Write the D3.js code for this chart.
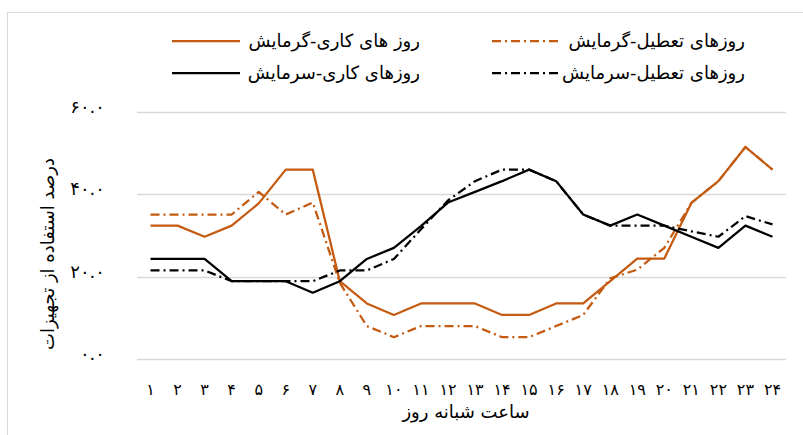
<!DOCTYPE html>
<html>
<head>
<meta charset="utf-8">
<script src="https://cdn.jsdelivr.net/npm/d3@7"></script>
<style>
  body { margin: 0; background: #fff; }
  text { font-family: "DejaVu Sans", sans-serif; fill: #000; }
</style>
</head>
<body>
<div id="chart"></div>
<script>
// hours of day (Persian digits used for labels)
var hours = d3.range(1, 25);
var hourLabels = ["۱","۲","۳","۴","۵","۶","۷","۸","۹","۱۰","۱۱","۱۲","۱۳","۱۴","۱۵","۱۶","۱۷","۱۸","۱۹","۲۰","۲۱","۲۲","۲۳","۲۴"];
var yTicks = [0, 20, 40, 60];
var yTickLabels = ["۰.۰", "۲۰.۰", "۴۰.۰", "۶۰.۰"];

var workHeat   = [32.4,32.4,29.7,32.4,37.8,46,46,18.9,13.5,10.7,13.5,13.5,13.5,10.7,10.7,13.5,13.5,18.9,24.4,24.4,37.9,43.2,51.5,46];
var holidayHeat = [35.1,35.1,35.1,35.1,40.6,35.1,38,18.5,8,5.3,8,8,8,5.3,5.3,8,10.7,19.6,21.7,27,37.9,43.2,51.5,46];
var workCool   = [24.3,24.3,24.3,18.9,18.9,18.9,16.1,18.9,24.3,27,32.3,38,40.6,43.2,46,43.2,35.1,32.4,35.1,32.4,29.7,27,32.4,29.7];
var holidayCool = [21.5,21.5,21.5,18.9,18.9,18.9,18.9,21.5,21.5,24.3,31.5,38.5,43.2,46,46,43.2,35.1,32.4,32.4,32.4,31,29.7,34.7,32.7];

var orange = "#c55a11";
var series = [
  {name: "روز های کاری-گرمایش", values: workHeat, color: orange, dash: null},
  {name: "روزهای تعطیل-گرمایش", values: holidayHeat, color: orange, dash: "9,4,2,4"},
  {name: "روزهای کاری-سرمایش", values: workCool, color: "#000", dash: null},
  {name: "روزهای تعطیل-سرمایش", values: holidayCool, color: "#000", dash: "9,4,2,4"}
];

var width = 803, height = 435;
var svg = d3.select("#chart").append("svg")
  .attr("width", width).attr("height", height);

// outer chart border
svg.append("rect")
  .attr("x", 7.5).attr("y", 12.5)
  .attr("width", 820).attr("height", 440)
  .attr("fill", "none").attr("stroke", "#d9d9d9");

var x = d3.scaleBand().domain(hours).range([137, 786]);
var y = d3.scaleLinear().domain([0, 60]).range([359, 112]);

// gridlines
svg.append("g").selectAll("line")
  .data(yTicks).enter().append("line")
  .attr("x1", 137).attr("x2", 786)
  .attr("y1", function(d) { return Math.round(y(d)) + 0.5; })
  .attr("y2", function(d) { return Math.round(y(d)) + 0.5; })
  .attr("stroke", "#d9d9d9").attr("stroke-width", 1.3);

// y tick labels
svg.append("g").selectAll("text")
  .data(yTicks).enter().append("text")
  .attr("x", 105).attr("y", function(d) { return y(d) + 1; })
  .attr("text-anchor", "end")
  .attr("font-size", "18px")
  .text(function(d, i) { return yTickLabels[i]; });

// x tick labels
svg.append("g").selectAll("text")
  .data(hours).enter().append("text")
  .attr("x", function(d) { return x(d) + x.bandwidth() / 2; })
  .attr("y", 395)
  .attr("text-anchor", "middle")
  .attr("font-size", "16px")
  .text(function(d, i) { return hourLabels[i]; });

// axis titles
svg.append("text")
  .attr("x", 466).attr("y", 418)
  .attr("text-anchor", "middle")
  .attr("font-size", "18px")
  .text("ساعت شبانه روز");

svg.append("text")
  .attr("transform", "translate(54,254) rotate(-90)")
  .attr("text-anchor", "middle")
  .attr("font-size", "18px")
  .text("درصد استفاده از تجهیزات");

var line = d3.line()
  .x(function(d, i) { return x(hours[i]) + x.bandwidth() / 2; })
  .y(function(d) { return y(d); });

svg.append("g").selectAll("path")
  .data(series).enter().append("path")
  .attr("d", function(s) { return line(s.values); })
  .attr("fill", "none")
  .attr("stroke", function(s) { return s.color; })
  .attr("stroke-width", 2.25)
  .attr("stroke-linejoin", "round")
  .attr("stroke-dasharray", function(s) { return s.dash; });

// legend: 2 columns x 2 rows
var legendPos = [
  {lx: 172, tx: 420, y: 41},
  {lx: 492, tx: 745, y: 41},
  {lx: 172, tx: 420, y: 73},
  {lx: 492, tx: 745, y: 73}
];
var leg = svg.append("g").selectAll("g")
  .data(series).enter().append("g");
leg.append("line")
  .attr("x1", function(d, i) { return legendPos[i].lx; })
  .attr("x2", function(d, i) { return legendPos[i].lx + 68; })
  .attr("y1", function(d, i) { return legendPos[i].y; })
  .attr("y2", function(d, i) { return legendPos[i].y; })
  .attr("stroke", function(d) { return d.color; })
  .attr("stroke-width", 2.25)
  .attr("stroke-dasharray", function(d) { return d.dash; });
leg.append("text")
  .attr("x", function(d, i) { return legendPos[i].tx; })
  .attr("y", function(d, i) { return legendPos[i].y + 6; })
  .attr("text-anchor", "end")
  .attr("font-size", "18px")
  .text(function(d) { return d.name; });
</script>
</body>
</html>
